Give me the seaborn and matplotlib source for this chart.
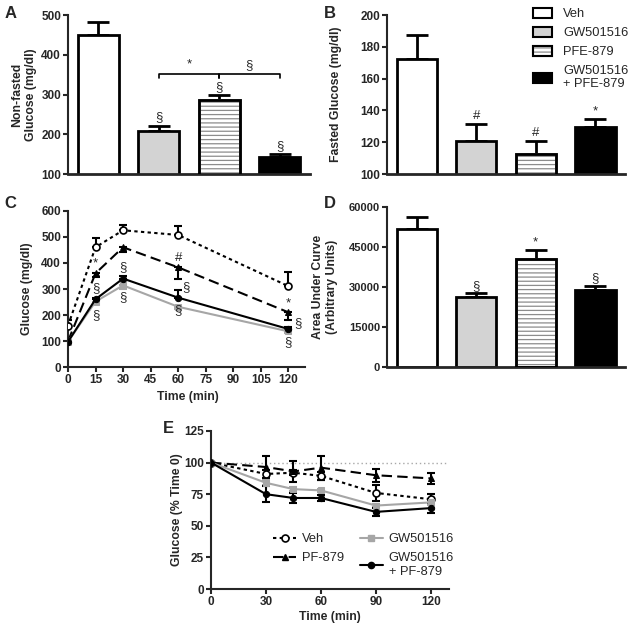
import matplotlib
matplotlib.use("Agg")
import matplotlib.pyplot as plt
import seaborn as sns
import numpy as np
import pandas as pd
from matplotlib.patches import Patch
from matplotlib.lines import Line2D

# ---------------- data ----------------
groups = ["Veh", "GW501516", "PFE-879", "GW501516\n+ PFE-879"]
bar_colors = ["white", "#d3d3d3", "white", "black"]

nonfasted_mean = [450, 207, 286, 143]
nonfasted_sem = [33, 15, 13, 7]
nonfasted_marks = ["", "§", "§", "§"]

fasted_mean = [172.5, 121, 112.8, 129.7]
fasted_sem = [15, 10.5, 8, 4.7]
fasted_marks = ["", "#", "#", "*"]

auc_mean = [51600, 26300, 40300, 28700]
auc_sem = [4600, 1200, 3400, 1700]
auc_marks = ["", "§", "*", "§"]

ogtt_time = [0, 15, 30, 60, 120]
ogtt_veh = [160, 460, 525, 507, 311]
ogtt_veh_err = [22, 37, 22, 36, 55]
ogtt_pf = [100, 360, 460, 383, 211]
ogtt_pf_err = [8, 15, 20, 46, 31]
ogtt_gw = [98, 252, 314, 232, 138]
ogtt_gw_err = [5, 10, 12, 10, 8]
ogtt_combo = [98, 261, 340, 267, 147]
ogtt_combo_err = [5, 6, 10, 28, 8]

itt_time = [0, 30, 45, 60, 90, 120]
itt_veh = [100, 91, 92, 89.5, 76, 71]
itt_veh_err = [0, 3, 2, 3, 6, 4]
itt_pf = [100, 96.5, 93, 96, 90, 87.5]
itt_pf_err = [0, 9, 8, 9.5, 5, 4.5]
itt_gw = [100, 84, 79, 78, 66, 68.5]
itt_gw_err = [0, 2, 1.5, 1.5, 1.5, 2]
itt_combo = [100, 75, 72, 72, 61, 64]
itt_combo_err = [0, 6.5, 4, 2.5, 3, 4]

# ---------------- style ----------------
sns.set_style("ticks")
plt.rcParams["font.family"] = ["Liberation Sans", "DejaVu Sans"]
plt.rcParams["hatch.linewidth"] = 0.9
plt.rcParams["axes.linewidth"] = 1.5

TICK_FS = 8.5
LAB_FS = 8.8
ANN_FS = 9.5
HATCH = "----"
HATCH_COL = "#8c8c8c"

fig = plt.figure(figsize=(6.3, 6.28), dpi=100)


def style_axis(ax, fs=TICK_FS):
    sns.despine(ax=ax)
    ax.tick_params(axis="both", direction="out", length=3.5, width=1.5,
                   labelsize=fs, pad=1.5)
    for lab in ax.get_xticklabels() + ax.get_yticklabels():
        lab.set_fontweight("bold")


def bar_panel(ax, means, errs, marks, ylim, yticks, mark_off, fs=TICK_FS):
    df = pd.DataFrame({"group": groups, "value": means})
    sns.barplot(data=df, x="group", y="value", hue="group", palette=bar_colors,
                edgecolor="black", linewidth=2, width=0.68, legend=False,
                saturation=1, ax=ax, zorder=2)
    p = ax.patches[2]
    p.set_edgecolor(HATCH_COL)
    p.set_hatch(HATCH)
    ax.bar([2], [means[2]], width=0.68, fill=False, edgecolor="black",
           linewidth=2, zorder=3)
    x = np.arange(len(means))
    ax.errorbar(x, means, yerr=[np.zeros(len(errs)), errs], fmt="none",
                ecolor="black", elinewidth=2, capsize=8, capthick=2, zorder=1)
    for xi, m, e, s in zip(x, means, errs, marks):
        if s:
            ax.text(xi, m + e + mark_off, s, ha="center", va="bottom",
                    fontsize=ANN_FS)
    ax.set_ylim(*ylim)
    ax.set_yticks(yticks)
    ax.set_xlim(-0.5, 3.5)
    ax.set_xticks([])
    ax.set_xlabel("")
    style_axis(ax, fs)
    ax.spines["bottom"].set_linewidth(2)


# ---------------- A ----------------
axA = fig.add_axes([0.1079, 0.7229, 0.384, 0.2532])
bar_panel(axA, nonfasted_mean, nonfasted_sem, nonfasted_marks, (100, 500),
          [100, 200, 300, 400, 500], 5)
axA.set_ylabel("Non-fasted\nGlucose (mg/dl)", fontsize=LAB_FS, fontweight="bold",
               va="center", linespacing=1.2)
axA.yaxis.set_label_coords(-0.18, 0.5)
bracket_level = 352
bracket_drop = 10
for (g1, g2, sym) in [(1, 2, "*"), (2, 3, "§")]:
    axA.plot([g1, g1, g2, g2],
             [bracket_level - bracket_drop, bracket_level, bracket_level,
              bracket_level - bracket_drop], color="black", lw=1.2)
    axA.text((g1 + g2) / 2, bracket_level + 8, sym, ha="center", va="bottom",
             fontsize=ANN_FS)

# ---------------- B ----------------
axB = fig.add_axes([0.6143, 0.7229, 0.3778, 0.2532])
bar_panel(axB, fasted_mean, fasted_sem, fasted_marks, (100, 200),
          [100, 120, 140, 160, 180, 200], 1.2)
axB.set_ylabel("Fasted Glucose (mg/dl)", fontsize=LAB_FS, fontweight="bold",
               va="center")
axB.yaxis.set_label_coords(-0.215, 0.5)
leg_handles = [
    Patch(facecolor="white", edgecolor="black", linewidth=1.5),
    Patch(facecolor="#d3d3d3", edgecolor="black", linewidth=1.5),
    (Patch(facecolor="white", edgecolor=HATCH_COL, hatch=HATCH, linewidth=1.5),
     Patch(fill=False, edgecolor="black", linewidth=1.5)),
    Patch(facecolor="black", edgecolor="black", linewidth=1.5),
]
fig.legend(leg_handles, groups, loc="upper left",
           bbox_to_anchor=(533 / 630, 1 - 8 / 628), frameon=False,
           fontsize=9.3, handlelength=1.45, handleheight=0.8,
           handletextpad=0.9, labelspacing=0.5, borderpad=0, borderaxespad=0)

# ---------------- C ----------------
axC = fig.add_axes([0.1079, 0.415, 0.376, 0.2495])
series_C = [
    (ogtt_veh, ogtt_veh_err, "up", dict(color="black", linestyle=(0, (1.6, 1.6)),
                                         marker="o", markersize=5, mfc="white",
                                         mec="black", mew=1.2)),
    (ogtt_pf, ogtt_pf_err, "down", dict(color="black", linestyle=(0, (5, 2.5)),
                                         marker="^", markersize=4, mfc="black",
                                         mec="black")),
    (ogtt_gw, ogtt_gw_err, "down", dict(color="#a6a6a6", linestyle="-",
                                         marker="s", markersize=4, mfc="#a6a6a6",
                                         mec="#a6a6a6")),
    (ogtt_combo, ogtt_combo_err, "up", dict(color="black", linestyle="-",
                                             marker="o", markersize=4.5,
                                             mfc="black", mec="black")),
]
for vals, errs, direction, kw in series_C:
    zero = np.zeros(len(errs))
    yerr = [zero, errs] if direction == "up" else [errs, zero]
    axC.errorbar(ogtt_time, vals, yerr=yerr, fmt="none", ecolor=kw["color"],
                 elinewidth=1.5, capsize=3, capthick=1.5, zorder=2)
    sns.lineplot(x=ogtt_time, y=vals, ax=axC, lw=1.5, zorder=3, **kw)
axC.set_xlim(0, 129)
axC.set_ylim(0, 600)
axC.set_xticks(range(0, 121, 15))
axC.set_yticks(range(0, 601, 100))
style_axis(axC)
axC.set_ylabel("Glucose (mg/dl)", fontsize=LAB_FS, fontweight="bold", va="center")
axC.yaxis.set_label_coords(-0.173, 0.5)
axC.set_xlabel("Time (min)", fontsize=LAB_FS, fontweight="bold", va="center")
axC.xaxis.set_label_coords(0.506, -0.19)
ann_C = [(15, 398, "*"), (15, 302, "§"), (15, 200, "§"), (30, 385, "§"),
         (30, 270, "§"), (60, 417, "#"), (64.5, 306, "§"), (60, 219, "§"),
         (120, 245, "*"), (125.5, 171, "§"), (120, 98, "§")]
for x, y, s in ann_C:
    axC.text(x, y, s, ha="center", va="center", fontsize=ANN_FS)

# ---------------- D ----------------
axD = fig.add_axes([0.6143, 0.4161, 0.3778, 0.2548])
bar_panel(axD, auc_mean, auc_sem, auc_marks, (0, 60000),
          [0, 15000, 30000, 45000, 60000], 500, fs=8)
axD.set_ylabel("Area Under Curve\n(Arbitrary Units)", fontsize=LAB_FS,
               fontweight="bold", va="center", linespacing=1.2)
axD.yaxis.set_label_coords(-0.26, 0.5)

# ---------------- E ----------------
axE = fig.add_axes([0.335, 0.0621, 0.378, 0.2516])
axE.axhline(100, color="#a8a8a8", ls=(0, (1, 2)), lw=1, zorder=1)
series_E = [
    ("Veh", itt_veh, itt_veh_err, dict(color="black", linestyle=(0, (1.6, 1.6)),
                                       marker="o", markersize=5, mfc="white",
                                       mec="black", mew=1.2)),
    ("PF-879", itt_pf, itt_pf_err, dict(color="black", linestyle=(0, (5, 2.5)),
                                         marker="^", markersize=4, mfc="black",
                                         mec="black")),
    ("GW501516", itt_gw, itt_gw_err, dict(color="#a6a6a6", linestyle="-",
                                          marker="s", markersize=4,
                                          mfc="#a6a6a6", mec="#a6a6a6")),
    ("GW501516\n+ PF-879", itt_combo, itt_combo_err,
     dict(color="black", linestyle="-", marker="o", markersize=4.5,
          mfc="black", mec="black")),
]
e_handles, e_labels = [], []
for name, vals, errs, kw in series_E:
    axE.errorbar(itt_time, vals, yerr=errs, fmt="none", ecolor=kw["color"],
                 elinewidth=1.5, capsize=3, capthick=1.5, zorder=2)
    sns.lineplot(x=itt_time, y=vals, ax=axE, lw=1.5, zorder=3, **kw)
    e_handles.append(Line2D([], [], lw=1.5, **kw))
    e_labels.append(name)
axE.set_xlim(0, 130)
axE.set_ylim(0, 125)
axE.set_xticks([0, 30, 60, 90, 120])
axE.set_yticks([0, 25, 50, 75, 100, 125])
style_axis(axE)
axE.set_ylabel("Glucose (% Time 0)", fontsize=LAB_FS, fontweight="bold",
               va="center")
axE.yaxis.set_label_coords(-0.143, 0.5)
axE.set_xlabel("Time (min)", fontsize=LAB_FS, fontweight="bold", va="center")
axE.xaxis.set_label_coords(0.5, -0.177)
axE.legend(e_handles, e_labels, ncol=2, loc="upper left",
           bbox_to_anchor=(273 / 630, 1 - 533 / 628),
           bbox_transform=fig.transFigure, frameon=False, fontsize=9.3,
           handlelength=1.8, handletextpad=0.45, columnspacing=1.2,
           labelspacing=0.55, borderpad=0, borderaxespad=0)

# ---------------- panel letters ----------------
for lx, ly, letter in [(5, 6, "A"), (324, 6, "B"), (4, 196, "C"),
                       (324, 196, "D"), (163, 421, "E")]:
    fig.text(lx / 630, 1 - ly / 628, letter, fontsize=12, fontweight="bold",
             ha="left", va="top")

fig.savefig("out.png", dpi=100)
